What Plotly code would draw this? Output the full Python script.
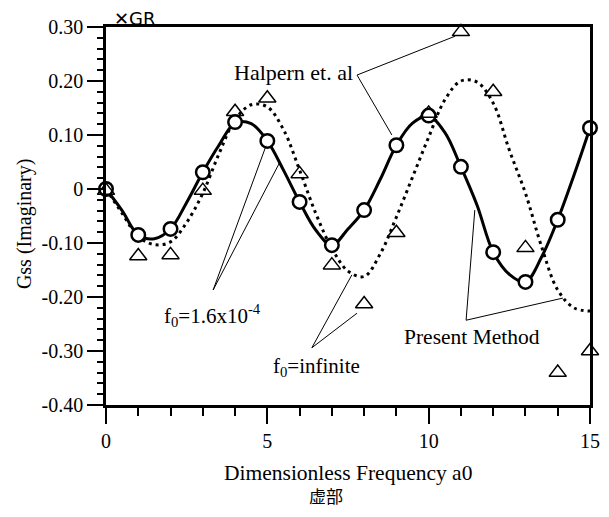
import plotly.graph_objects as go

# ---- data ----
freq_int = list(range(0, 16))
halpern_circles = [0.0, -0.085, -0.074, 0.031, 0.124, 0.089, -0.024, -0.104,
                   -0.039, 0.081, 0.136, 0.041, -0.117, -0.172, -0.057, 0.113]
halpern_triangles = [-0.003, -0.124, -0.122, -0.003, 0.143, 0.168, 0.028, -0.141,
                     -0.213, -0.081, 0.140, 0.291, 0.180, -0.109, -0.340, -0.300]

freq_half = [i * 0.5 for i in range(31)]
present_f0_small = [0.0, -0.040, -0.085, -0.092, -0.074, -0.025, 0.031, 0.081,
                    0.122, 0.121, 0.089, 0.035, -0.024, -0.076, -0.104, -0.074,
                    -0.039, 0.018, 0.081, 0.122, 0.135, 0.105, 0.041, -0.030,
                    -0.117, -0.158, -0.172, -0.126, -0.057, 0.025, 0.113]
present_f0_inf = [0.0, -0.045, -0.088, -0.103, -0.098, -0.062, -0.008, 0.065,
                  0.128, 0.156, 0.152, 0.110, 0.035, -0.045, -0.110, -0.152,
                  -0.162, -0.120, -0.052, 0.022, 0.096, 0.165, 0.200, 0.198,
                  0.159, 0.072, -0.008, -0.107, -0.187, -0.220, -0.226]

ytick_vals = [0.3, 0.2, 0.1, 0.0, -0.1, -0.2, -0.3, -0.4]
ytick_text = ["0.30", "0.20", "0.10", "0", "-0.10", "-0.20", "-0.30", "-0.40"]
xtick_vals = [0, 5, 10, 15]

SERIF = "Liberation Serif"

fig = go.Figure()
fig.add_trace(go.Scatter(x=freq_half, y=present_f0_inf, mode="lines",
                         line=dict(color="black", width=3, dash="3px,4px", shape="spline"),
                         showlegend=False, hoverinfo="skip"))
fig.add_trace(go.Scatter(x=freq_half, y=present_f0_small, mode="lines",
                         line=dict(color="black", width=3, shape="spline"),
                         showlegend=False, hoverinfo="skip"))
fig.add_trace(go.Scatter(x=freq_int, y=halpern_circles, mode="markers",
                         marker=dict(symbol="circle", size=13.5, color="white",
                                     line=dict(color="black", width=2.5)),
                         showlegend=False, cliponaxis=False))
fig.add_trace(go.Scatter(x=freq_int, y=halpern_triangles, mode="markers",
                         marker=dict(symbol="triangle-up-open", size=15, color="black",
                                     line=dict(color="black", width=1.5)),
                         showlegend=False, cliponaxis=False))

# leader lines (data coordinates)
leaders = [
    ((7.78, 0.211), (10.82, 0.283)),
    ((7.78, 0.211), (8.86, 0.100)),
    ((3.32, -0.187), (4.96, 0.080)),
    ((3.32, -0.187), (5.39, 0.050)),
    ((6.38, -0.294), (7.62, -0.159)),
    ((6.38, -0.294), (7.78, -0.230)),
    ((11.16, -0.243), (11.43, -0.039)),
    ((11.16, -0.243), (14.16, -0.202)),
]
for (x0, y0), (x1, y1) in leaders:
    fig.add_shape(type="line", x0=x0, y0=y0, x1=x1, y1=y1, xref="x", yref="y",
                  line=dict(color="black", width=1))

font = dict(family=SERIF, size=22, color="black")
fig.add_annotation(x=7.72, y=0.215, xref="x", yref="y", text="Halpern et. al",
                   showarrow=False, xanchor="right", yanchor="middle", font=font)
fig.add_annotation(x=1.72, y=-0.235, xref="x", yref="y",
                   text="f<sub>0</sub>=1.6x10<sup>-4</sup>",
                   showarrow=False, xanchor="left", yanchor="middle",
                   font=dict(family=SERIF, size=21, color="black"))
fig.add_annotation(x=5.12, y=-0.330, xref="x", yref="y",
                   text="f<sub>0</sub>=infinite",
                   showarrow=False, xanchor="left", yanchor="middle",
                   font=dict(family=SERIF, size=21, color="black"))
fig.add_annotation(x=11.34, y=-0.274, xref="x", yref="y", text="Present Method",
                   showarrow=False, xanchor="center", yanchor="middle",
                   font=dict(family=SERIF, size=21.5, color="black"))

# titles
fig.add_annotation(x=0.5, y=-0.18, xref="paper", yref="paper",
                   text="Dimensionless Frequency a0", showarrow=False,
                   xanchor="center", yanchor="middle", font=dict(family=SERIF, size=21.5, color="black"))
fig.add_annotation(x=0.455, y=-0.239, xref="paper", yref="paper",
                   text="虚部", showarrow=False,
                   xanchor="center", yanchor="middle",
                   font=dict(family="Noto Sans CJK JP", size=17, color="black"))
fig.add_annotation(x=-0.167, y=0.479, xref="paper", yref="paper",
                   text="Gss (Imaginary)", showarrow=False, textangle=-90,
                   xanchor="center", yanchor="middle", font=dict(family=SERIF, size=20, color="black"))
fig.add_annotation(x=0.012, y=1.022, xref="paper", yref="paper",
                   text="✕GR", showarrow=False,
                   xanchor="left", yanchor="middle",
                   font=dict(family="DejaVu Sans", size=18, color="black"))

# The page body adds an 8px offset; figure size and margins compensate so the
# plot area lands at the reference's pixel position in the 609x517 window.
fig.update_layout(
    width=593, height=501, autosize=False,
    margin=dict(l=98, r=11, t=19, b=104, autoexpand=False),
    paper_bgcolor="white", plot_bgcolor="white",
    font=dict(family=SERIF, size=20, color="black"),
    xaxis=dict(range=[0, 15], tickvals=xtick_vals, ticks="outside", ticklen=16,
               tickwidth=2, tickcolor="black", showgrid=False, zeroline=False,
               showline=True, linecolor="black", linewidth=3, mirror=True,
               minor=dict(dtick=1, ticks="outside", ticklen=8, tickwidth=1.5,
                          tickcolor="black", showgrid=False),
               tickfont=dict(family=SERIF, size=20, color="black")),
    yaxis=dict(range=[-0.4, 0.3], tickvals=ytick_vals, ticktext=ytick_text,
               ticks="outside", ticklen=16, tickwidth=1.5, tickcolor="black",
               showgrid=False, zeroline=False, showline=True, linecolor="black",
               linewidth=2.5, mirror=True,
               minor=dict(dtick=0.02, tick0=0, ticks="outside", ticklen=6, tickwidth=1.5,
                          tickcolor="black", showgrid=False),
               tickfont=dict(family=SERIF, size=20, color="black")),
)

fig.write_html("out.html")
